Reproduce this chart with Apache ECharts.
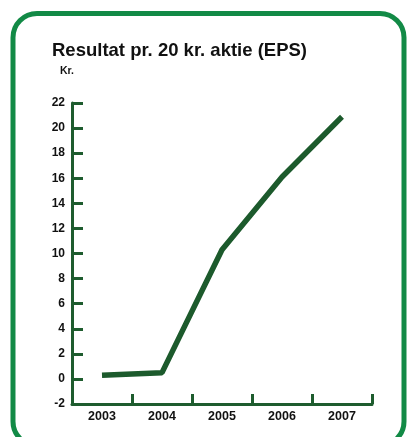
<!DOCTYPE html>
<html>
<head>
<meta charset="utf-8">
<script src="https://cdn.jsdelivr.net/npm/echarts@6/dist/echarts.min.js"></script>
<style>
html,body{margin:0;padding:0;background:#fff;}
#c{width:408px;height:437px;}
</style>
</head>
<body>
<div id="c"></div>
<script>
const years = ['2003', '2004', '2005', '2006', '2007'];
const eps = [0.3, 0.5, 10.3, 16.1, 20.9];
const yTicks = { min: -2, max: 22, step: 2 };
const titleText = 'Resultat pr. 20 kr. aktie (EPS)';
const unitText = 'Kr.';

const axisColor = '#1e5c2e';
const fontFam = '"Liberation Sans", Arial, sans-serif';
const chart = echarts.init(document.getElementById('c'), null, { renderer: 'canvas' });
chart.setOption({
  backgroundColor: '#ffffff',
  animation: false,
  graphic: [
    {
      type: 'rect',
      shape: { x: 13, y: 13.5, width: 391, height: 432, r: 24 },
      style: { fill: 'none', stroke: '#128a46', lineWidth: 5 },
      z: 10
    },
    {
      type: 'text',
      left: 52, top: 41,
      style: { text: titleText, font: 'bold 18.5px ' + fontFam, fill: '#111' }
    },
    {
      type: 'text',
      left: 60, top: 66,
      style: { text: unitText, font: 'bold 10.5px ' + fontFam, fill: '#111' }
    }
  ],
  grid: { left: 72, right: 36, top: 103, bottom: 33, containLabel: false },
  xAxis: {
    type: 'category',
    data: years,
    boundaryGap: true,
    axisLine: { show: true, onZero: false, lineStyle: { color: axisColor, width: 3 } },
    axisTick: { show: true, inside: true, length: 10, alignWithLabel: false, interval: 0, lineStyle: { color: axisColor, width: 3 } },
    axisLabel: { color: '#111', fontWeight: 'bold', fontSize: 12.5, margin: 6, fontFamily: fontFam },
    splitLine: { show: false }
  },
  yAxis: {
    type: 'value',
    min: yTicks.min, max: yTicks.max, interval: yTicks.step,
    axisLine: { show: true, lineStyle: { color: axisColor, width: 3 } },
    axisTick: { show: true, inside: true, length: 11, lineStyle: { color: axisColor, width: 3 } },
    axisLabel: { color: '#111', fontWeight: 'bold', fontSize: 12, margin: 7, fontFamily: fontFam },
    splitLine: { show: false }
  },
  series: [{
    type: 'line',
    data: eps,
    symbol: 'none',
    lineStyle: { color: '#1c5a2c', width: 5.5 },
    z: 3
  }]
});
</script>
</body>
</html>
